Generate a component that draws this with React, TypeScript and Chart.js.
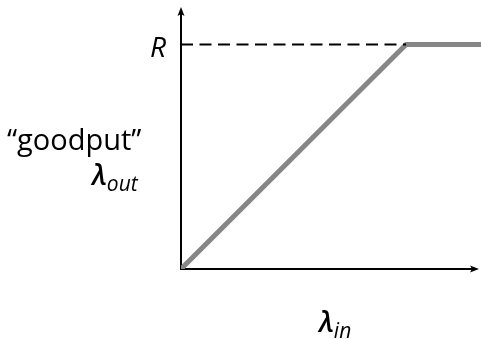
import React, { useEffect, useRef } from "react";
import { Chart, registerables } from "chart.js";

Chart.register(...registerables);

// Data (rate units, R = 1)
const lineX = [0, 1, 1.34];
const lineY = [0, 1, 1];
const capX = [0, 1];
const capY = [1, 1];
const yLabelMain = "\u201Cgoodput\u201D";
const capLabel = "R";
const xSym = "\u03BB";
const xSub = "in";
const ySym = "\u03BB";
const ySub = "out";

const FONT = "'Open Sans', sans-serif";

const decor = {
  id: "decor",
  beforeDatasetsDraw(chart: any) {
    const { ctx, chartArea } = chart;
    const { left, bottom } = chartArea;
    ctx.save();
    ctx.strokeStyle = "#000";
    ctx.fillStyle = "#000";
    ctx.lineWidth = 2;
    // y axis
    ctx.beginPath();
    ctx.moveTo(left, bottom + 1);
    ctx.lineTo(left, 12);
    ctx.stroke();
    ctx.beginPath();
    ctx.moveTo(left, 7);
    ctx.lineTo(left - 3.5, 16);
    ctx.lineTo(left, 14);
    ctx.lineTo(left + 3.5, 16);
    ctx.closePath();
    ctx.fill();
    // x axis
    ctx.beginPath();
    ctx.moveTo(left - 1, bottom);
    ctx.lineTo(474, bottom);
    ctx.stroke();
    ctx.beginPath();
    ctx.moveTo(479, bottom);
    ctx.lineTo(470, bottom - 3.5);
    ctx.lineTo(472, bottom);
    ctx.lineTo(470, bottom + 3.5);
    ctx.closePath();
    ctx.fill();
    ctx.restore();
  },
  afterDraw(chart: any) {
    const { ctx, scales } = chart;
    const yR = scales.y.getPixelForValue(1);
    ctx.save();
    ctx.fillStyle = "#000";
    ctx.textBaseline = "alphabetic";
    // R
    ctx.font = `italic 28px ${FONT}`;
    ctx.textAlign = "left";
    ctx.fillText(capLabel, 150, yR + 12);
    // goodput
    ctx.font = `29px ${FONT}`;
    ctx.fillText(yLabelMain, 7, 150);
    // lambda out
    ctx.font = `italic 600 28px ${FONT}`;
    ctx.fillText(ySym, 92, 185);
    const w1 = ctx.measureText(ySym).width;
    ctx.font = `italic 21px ${FONT}`;
    ctx.fillText(ySub, 92 + w1, 191);
    // lambda in
    ctx.font = `italic 600 28px ${FONT}`;
    ctx.fillText(xSym, 319, 332);
    const w2 = ctx.measureText(xSym).width;
    ctx.font = `italic 21px ${FONT}`;
    ctx.fillText(xSub, 319 + w2, 338);
    ctx.restore();
  },
};

export default function App() {
  const ref = useRef<HTMLCanvasElement>(null);
  useEffect(() => {
    const chart = new Chart(ref.current!, {
      type: "scatter",
      data: {
        datasets: [
          {
            data: capX.map((x, i) => ({ x, y: capY[i] })),
            showLine: true,
            borderColor: "#000",
            borderWidth: 2,
            borderDash: [12, 6.5],
            pointRadius: 0,
          },
          {
            data: lineX.map((x, i) => ({ x, y: lineY[i] })),
            showLine: true,
            borderColor: "#868686",
            borderWidth: 5,
            pointRadius: 0,
            borderCapStyle: "butt",
            borderJoinStyle: "miter",
          },
        ],
      },
      options: {
        animation: false,
        responsive: false,
        layout: { padding: { left: 181, top: 8, right: 0, bottom: 70 } },
        plugins: { legend: { display: false }, tooltip: { enabled: false } },
        scales: {
          x: { type: "linear", display: false, min: 0, max: 1.333 },
          y: { type: "linear", display: false, min: 0, max: 1.1626 },
        },
      },
      plugins: [decor],
    });
    return () => chart.destroy();
  }, []);
  return (
    <div style={{ position: "fixed", left: 0, top: 0, width: 481, height: 339, background: "#fff" }}>
      <canvas ref={ref} width={481} height={339} />
    </div>
  );
}
